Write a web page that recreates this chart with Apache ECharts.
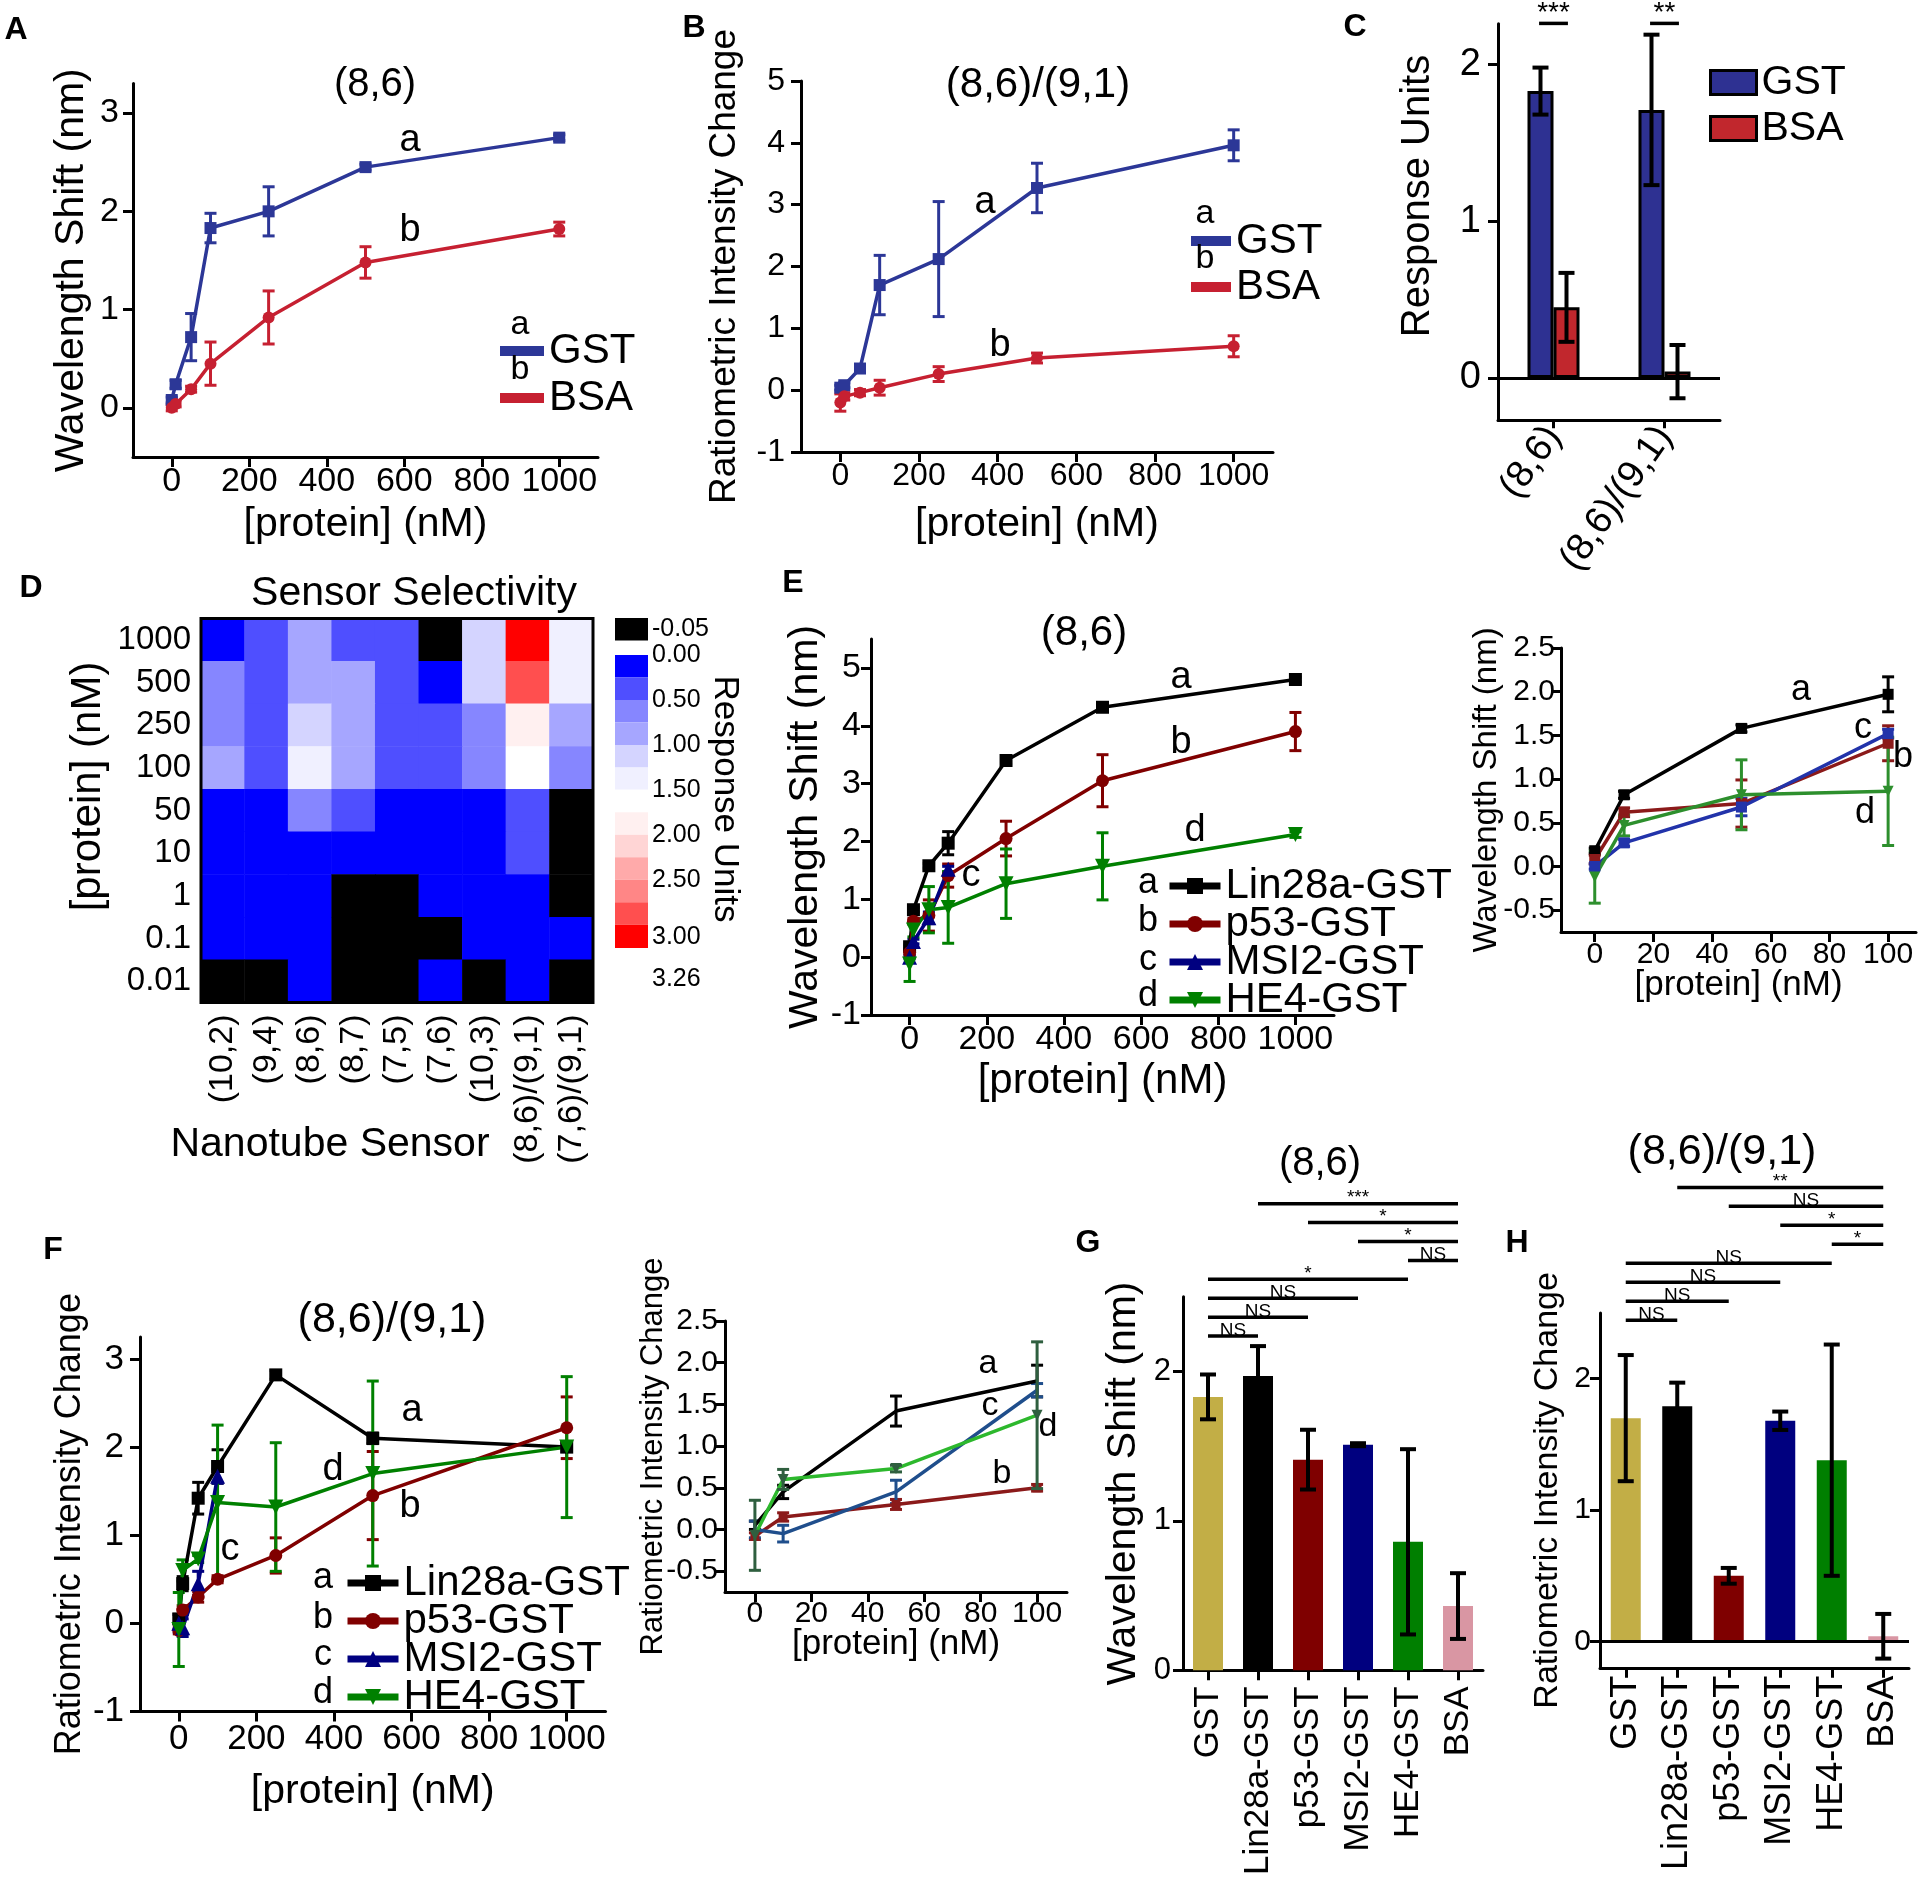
<!DOCTYPE html>
<html>
<head>
<meta charset="utf-8">
<title>Nanotube sensor selectivity</title>
<script src="https://cdn.jsdelivr.net/npm/echarts@6/dist/echarts.min.js"></script>
<style>
html,body{margin:0;padding:0;background:#ffffff;}
#chart{width:1920px;height:1878px;}
</style>
</head>
<body>
<div id="chart"></div>
<script>
// ======================= DATA =======================
// shared concentration axis (nM) and tick labels
const concs = [0, 10, 50, 100, 250, 500, 1000];
const ticks1000 = [0, 200, 400, 600, 800, 1000];
const ticks100 = [0, 20, 40, 60, 80, 100];

// Panel A: (8,6) wavelength shift
const aGst = [0.08, 0.24, 0.72, 1.83, 2.00, 2.45, 2.75];
const aGstErr = [0.03, 0.04, 0.24, 0.15, 0.25, 0.03, 0.03];
const aBsa = [0.00, 0.04, 0.19, 0.45, 0.92, 1.48, 1.82];
const aBsaErr = [0.03, 0.03, 0.03, 0.22, 0.27, 0.16, 0.07];

// Panel B: (8,6)/(9,1) ratiometric intensity change
const bGst = [0.04, 0.08, 0.35, 1.70, 2.12, 3.27, 3.96];
const bGstErr = [0.04, 0.04, 0.05, 0.48, 0.93, 0.40, 0.25];
const bBsa = [-0.20, -0.10, -0.04, 0.04, 0.26, 0.52, 0.71];
const bBsaErr = [0.14, 0.06, 0.05, 0.12, 0.12, 0.08, 0.17];

// Panel C: response units at 100 nM
const cCats = ['(8,6)', '(8,6)/(9,1)'];
const cGst = [1.83, 1.71];
const cGstErr = [0.15, 0.48];
const cBsa = [0.45, 0.04];
const cBsaErr = [0.22, 0.17];
const cSig = ['***', '**'];

// Panel D: sensor selectivity heatmap (rows: 1000 nM at top ... 0.01 nM at bottom)
const dSensors = ['(10,2)', '(9,4)', '(8,6)', '(8,7)', '(7,5)', '(7,6)', '(10,3)', '(8,6)/(9,1)', '(7,6)/(9,1)'];
const dConcs = ['0.01', '0.1', '1', '10', '50', '100', '250', '500', '1000'];
const dRows = [
  [0.15, 0.38, 0.88, 0.40, 0.42, -0.03, 1.12, 3.15, 1.38],
  [0.62, 0.41, 0.92, 0.90, 0.39, 0.18, 1.15, 2.86, 1.36],
  [0.64, 0.37, 1.14, 0.87, 0.36, 0.33, 0.63, 1.86, 0.86],
  [0.85, 0.39, 1.40, 0.89, 0.35, 0.34, 0.61, 1.62, 0.59],
  [0.12, 0.16, 0.66, 0.41, 0.14, 0.10, 0.15, 0.37, -0.03],
  [0.10, 0.13, 0.17, 0.15, 0.12, 0.11, 0.14, 0.33, -0.02],
  [0.08, 0.10, 0.12, -0.02, -0.01, 0.09, 0.11, 0.18, -0.03],
  [0.06, 0.07, 0.09, -0.02, -0.03, -0.01, 0.05, 0.10, 0.04],
  [-0.02, -0.01, 0.05, -0.04, -0.03, 0.03, -0.02, 0.06, -0.04]
];
const respBreaks = [-0.05, 0, 0.25, 0.5, 0.75, 1.0, 1.25, 1.5, 1.75, 2.0, 2.25, 2.5, 2.75, 3.0, 3.26];
const cbTickValues = [-0.05, 0, 0.5, 1.0, 1.5, 2.0, 2.5, 3.0, 3.26];

// Panel E: (8,6) wavelength shift for GST fusions (inset uses first four concentrations)
const eLin28 = [0.18, 0.82, 1.58, 1.97, 3.40, 4.32, 4.80];
const eLin28Err = [0.03, 0.04, 0.04, 0.20, 0.06, 0.04, 0.04];
const eP53 = [0.08, 0.62, 0.72, 1.41, 2.05, 3.05, 3.90];
const eP53Err = [0.05, 0.05, 0.27, 0.20, 0.30, 0.45, 0.33];
const eMsi2 = [0.00, 0.27, 0.68, 1.52];
const eMsi2Err = [0.03, 0.04, 0.10, 0.05];
const eHe4 = [-0.12, 0.47, 0.82, 0.86, 1.27, 1.57, 2.12];
const eHe4Err = [0.30, 0.12, 0.40, 0.62, 0.60, 0.58, 0.05];

// Panel F: (8,6)/(9,1) ratiometric change for GST fusions
const fLin28 = [0.05, 0.45, 1.42, 1.78, 2.82, 2.10, 2.00];
const fLin28Err = [0.05, 0.08, 0.18, 0.19, 0.05, 0.06, 0.05];
const fP53 = [-0.08, 0.15, 0.30, 0.50, 0.77, 1.45, 2.22];
const fP53Err = [0.04, 0.05, 0.06, 0.04, 0.20, 0.50, 0.35];
const fMsi2 = [0.00, -0.05, 0.45, 1.67];
const fMsi2Err = [0.10, 0.10, 0.14, 0.08];
const fHe4 = [-0.07, 0.60, 0.73, 1.37, 1.32, 1.70, 2.00];
const fHe4Err = [0.42, 0.12, 0.04, 0.88, 0.73, 1.05, 0.80];

// Panels G / H: 100 nM comparisons
const ghCats = ['GST', 'Lin28a-GST', 'p53-GST', 'MSI2-GST', 'HE4-GST', 'BSA'];
const gVals = [1.83, 1.97, 1.41, 1.51, 0.86, 0.43];
const gErr = [0.15, 0.20, 0.20, 0.01, 0.62, 0.22];
const hVals = [1.70, 1.79, 0.50, 1.68, 1.38, 0.04];
const hErr = [0.48, 0.18, 0.06, 0.07, 0.88, 0.17];
const sigPairs = [[0, 1], [0, 2], [0, 3], [0, 4], [4, 5], [3, 5], [2, 5], [1, 5]];
const gSig = ['NS', 'NS', 'NS', '*', 'NS', '*', '*', '***'];
const hSig = ['NS', 'NS', 'NS', 'NS', '*', '*', 'NS', '**'];

// ======================= STYLE =======================
const FONT = "'Liberation Sans', Arial, Helvetica, sans-serif";
const AB_BLUE = '#2c3797', AB_RED = '#c62031';
const C_BLUE = '#2e3192', C_RED = '#c1272d';
const K = '#000000', P53C = '#800000', MSIC = '#000080', HE4C = '#008000';
const INS_RED = '#8b1a1a', INS_BLUE_E = '#2233aa', INS_BLUE_F = '#1f4e8c', INS_GREEN_E = '#2d8f2d', INS_GREEN_F = '#2db82d', INS_GREEN_F_ERR = '#2f5f3f';
const respColors = ['#000000', '#0000ff', '#4f4fff', '#8686ff', '#a6a6ff', '#d4d4ff', '#f0f0ff', '#ffffff', '#fff0f0', '#ffd5d5', '#ffaaaa', '#ff8686', '#ff4f4f', '#ff0000'];
const ghColors = ['#c2ae46', '#000000', '#7f0000', '#00007f', '#007f00', '#d996a3'];
const DOWN_TRI = 'path://M0,0L10,0L5,9Z';

// ======================= HELPERS =======================
function merge(a, b) {
  for (const k in b) {
    const bv = b[k];
    if (bv && typeof bv === 'object' && !Array.isArray(bv) && a[k] && typeof a[k] === 'object' && !Array.isArray(a[k])) merge(a[k], bv);
    else a[k] = bv;
  }
  return a;
}
function baseAxis(o) {
  return merge({
    nameLocation: 'middle',
    nameMoveOverlap: false,
    axisLine: {show: true, onZero: false, lineStyle: {color: '#000', width: 3}},
    axisTick: {show: true, length: 10, lineStyle: {color: '#000', width: 3}},
    axisLabel: {color: '#000', fontFamily: FONT, fontSize: 30, margin: 12},
    splitLine: {show: false},
    nameTextStyle: {color: '#000', fontFamily: FONT}
  }, o || {});
}
function valAx(min, max, ticks, fs, o) {
  return baseAxis(merge({type: 'value', min: min, max: max,
    axisTick: {customValues: ticks},
    axisLabel: {customValues: ticks, fontSize: fs, hideOverlap: false, formatter: v => String(v)}}, o || {}));
}
function catAx(data, o) {
  return baseAxis(merge({type: 'category', data: data, axisTick: {alignWithLabel: true}, axisLabel: {interval: 0}}, o || {}));
}
function hidAx(min, max) { return {type: 'value', min: min, max: max, show: false}; }

const grids = [], xAxis = [], yAxis = [], series = [], legends = [], texts = [];
function addPanel(box, xa, ya) {
  grids.push(box);
  const i = grids.length - 1;
  xa.gridIndex = i; ya.gridIndex = i;
  xAxis.push(xa); yAxis.push(ya);
  return i;
}
function lineS(name, p, xs, ys, color, symbol, size, o) {
  return merge({
    type: 'line', name: name, xAxisIndex: p, yAxisIndex: p, silent: true, z: 3,
    data: ys.map((y, i) => [xs[i], y]), symbol: symbol, symbolSize: size, showSymbol: true,
    lineStyle: {color: color, width: 3.5}, itemStyle: {color: color}, emphasis: {disabled: true}
  }, o || {});
}
function errS(p, xs, ys, errs, color, o) {
  o = o || {};
  const cap = o.cap || 12, lw = o.lw || 3, off = o.offset || 0;
  return {
    type: 'custom', xAxisIndex: p, yAxisIndex: p, silent: true, z: o.z || 2,
    data: ys.map((y, i) => [xs[i], y - errs[i], y + errs[i]]),
    encode: {x: 0, y: [1, 2]},
    renderItem: function (params, api) {
      const lo = api.coord([api.value(0), api.value(1)]);
      const hi = api.coord([api.value(0), api.value(2)]);
      const x = lo[0] + off;
      const st = {stroke: color, lineWidth: lw};
      return {type: 'group', children: [
        {type: 'line', shape: {x1: x, y1: lo[1], x2: x, y2: hi[1]}, style: st},
        {type: 'line', shape: {x1: x - cap / 2, y1: lo[1], x2: x + cap / 2, y2: lo[1]}, style: st},
        {type: 'line', shape: {x1: x - cap / 2, y1: hi[1], x2: x + cap / 2, y2: hi[1]}, style: st}
      ]};
    }
  };
}
function sigS(p, items, labels, fs) {
  return {
    type: 'custom', xAxisIndex: p, yAxisIndex: p, silent: true, z: 4,
    data: items, encode: {x: [0, 1], y: 2},
    renderItem: function (params, api) {
      const a = api.coord([api.value(0), api.value(2)]);
      const b = api.coord([api.value(1), api.value(2)]);
      return {type: 'group', children: [
        {type: 'line', shape: {x1: a[0], y1: a[1], x2: b[0], y2: b[1]}, style: {stroke: '#000', lineWidth: 3.5}},
        {type: 'text', x: (a[0] + b[0]) / 2, y: a[1] + 4,
          style: {text: labels[params.dataIndex], fontSize: fs, fontFamily: FONT, fill: '#000', align: 'center', verticalAlign: 'bottom'}}
      ]};
    }
  };
}
function txt(t, x, y, fs, o) {
  texts.push(merge({type: 'text', x: x, y: y, silent: true, z: 10,
    style: {text: t, fontSize: fs, fontFamily: FONT, fill: '#000', align: 'center', verticalAlign: 'middle'}}, o || {}));
}
function panelLetter(t, x, y) { txt(t, x, y, 32, {style: {fontWeight: 'bold'}}); }
const zeroLine = {silent: true, symbol: ['none', 'none'], label: {show: false},
  lineStyle: {color: '#000', width: 3, type: 'solid'}, data: [{yAxis: 0}]};
function fourLegend(left, top) {
  return {orient: 'vertical', left: left, top: top, itemWidth: 51, itemHeight: 20, itemGap: -4, selectedMode: false,
    data: ['Lin28a-GST', 'p53-GST', 'MSI2-GST', 'HE4-GST'], lineStyle: {width: 7},
    textStyle: {fontSize: 42, lineHeight: 36, color: '#000', fontFamily: FONT}};
}

// ======================= PANEL A =======================
const pA = addPanel({left: 133, top: 83.6, width: 465, height: 373.4},
  valAx(-100, 1100, ticks1000, 34, {name: '[protein] (nM)', nameGap: 47, nameTextStyle: {fontSize: 41}, axisLabel: {margin: 8}}),
  valAx(-0.5, 3.3, [0, 1, 2, 3], 34, {name: 'Wavelength Shift (nm)', nameGap: 41, nameTextStyle: {fontSize: 41}, axisLabel: {margin: 14}}));
series.push(errS(pA, concs, aGst, aGstErr, AB_BLUE));
series.push(errS(pA, concs, aBsa, aBsaErr, AB_RED));
series.push(lineS('GST', pA, concs, aGst, AB_BLUE, 'rect', 12));
series.push(lineS('BSA', pA, concs, aBsa, AB_RED, 'circle', 12));
legends.push({orient: 'vertical', left: 495, top: 325, itemWidth: 44, itemHeight: 10, itemGap: 5, selectedMode: false,
  data: [{name: 'GST', icon: 'rect'}, {name: 'BSA', icon: 'rect'}],
  textStyle: {fontSize: 42, lineHeight: 42, color: '#000', fontFamily: FONT}});
panelLetter('A', 16, 30);
txt('(8,6)', 375, 85, 40);
txt('a', 410, 141, 38); txt('b', 410, 231, 38);
txt('a', 520, 325, 34); txt('b', 520, 370, 34);

// ======================= PANEL B =======================
const pB = addPanel({left: 801, top: 81, width: 472, height: 371},
  valAx(-100, 1100, ticks1000, 32, {name: '[protein] (nM)', nameGap: 52, nameTextStyle: {fontSize: 41}, axisLabel: {margin: 8}}),
  valAx(-1, 5, [-1, 0, 1, 2, 3, 4, 5], 32, {name: 'Ratiometric Intensity Change', nameGap: 58, nameTextStyle: {fontSize: 37}, axisLabel: {margin: 16}}));
series.push(errS(pB, concs, bGst, bGstErr, AB_BLUE));
series.push(errS(pB, concs, bBsa, bBsaErr, AB_RED));
series.push(lineS('GST', pB, concs, bGst, AB_BLUE, 'rect', 12));
series.push(lineS('BSA', pB, concs, bBsa, AB_RED, 'circle', 12));
legends.push({orient: 'vertical', left: 1186, top: 215, itemWidth: 40, itemHeight: 10, itemGap: 4, selectedMode: false,
  data: [{name: 'GST', icon: 'rect'}, {name: 'BSA', icon: 'rect'}],
  textStyle: {fontSize: 42, lineHeight: 42, color: '#000', fontFamily: FONT}});
panelLetter('B', 694, 28);
txt('(8,6)/(9,1)', 1038, 85, 42);
txt('a', 985, 203, 38); txt('b', 1000, 346, 38);
txt('a', 1205, 214, 34); txt('b', 1205, 259, 34);

// ======================= PANEL C =======================
const pC = addPanel({left: 1498, top: 23.7, width: 222, height: 396.5},
  catAx(cCats, {axisTick: {length: 8}, axisLabel: {rotate: 55, fontSize: 38, margin: 10}}),
  valAx(-0.27, 2.26, [0, 1, 2], 38, {name: 'Response Units', nameGap: 60, nameTextStyle: {fontSize: 40, padding: [0, 0, 0, 52]}, axisLabel: {margin: 17}}));
series.push({type: 'bar', name: 'GST', xAxisIndex: pC, yAxisIndex: pC, silent: true, data: cGst, barWidth: 26, barGap: '0%',
  itemStyle: {color: C_BLUE, borderColor: '#000', borderWidth: 3}, markLine: zeroLine});
series.push({type: 'bar', name: 'BSA', xAxisIndex: pC, yAxisIndex: pC, silent: true, data: cBsa, barWidth: 26, barGap: '0%',
  itemStyle: {color: C_RED, borderColor: '#000', borderWidth: 3}});
series.push(errS(pC, [0, 1], cGst, cGstErr, '#000', {offset: -13, lw: 4, cap: 16, z: 5}));
series.push(errS(pC, [0, 1], cBsa, cBsaErr, '#000', {offset: 13, lw: 4, cap: 16, z: 5}));
const pCs = addPanel({left: 1498, top: 23.4, width: 222, height: 10}, hidAx(-0.5, 1.5), hidAx(0, 1));
const C_SIG_HALF = 0.13;
series.push(sigS(pCs, cSig.map((s, i) => [i - C_SIG_HALF, i + C_SIG_HALF, 1]), cSig, 28));
legends.push({orient: 'vertical', left: 1704, top: 57, itemWidth: 46, itemHeight: 24, itemGap: 5, selectedMode: false,
  data: [{name: 'GST', icon: 'rect', itemStyle: {color: C_BLUE, borderColor: '#000', borderWidth: 3}},
         {name: 'BSA', icon: 'rect', itemStyle: {color: C_RED, borderColor: '#000', borderWidth: 3}}],
  textStyle: {fontSize: 41, lineHeight: 41, color: '#000', fontFamily: FONT}});
panelLetter('C', 1355, 27);

// ======================= PANEL D =======================
const pD = addPanel({left: 201, top: 618.5, width: 392, height: 384, show: true, borderColor: '#000', borderWidth: 3, z: 5},
  catAx(dSensors, {axisLine: {show: false}, axisTick: {show: false}, axisLabel: {rotate: 90, fontSize: 34, margin: 12},
    name: 'Nanotube Sensor', nameGap: 122, nameTextStyle: {fontSize: 41, padding: [0, 134, 0, 0]}}),
  catAx(dConcs, {axisLine: {show: false}, axisTick: {show: false}, axisLabel: {fontSize: 33, margin: 10},
    name: '[protein] (nM)', nameGap: 92, nameTextStyle: {fontSize: 42, padding: [0, 0, 0, 48]}}));
const heatData = [];
dRows.forEach((row, r) => row.forEach((v, c) => heatData.push([c, dConcs.length - 1 - r, v])));
const heatIdx = series.length;
series.push({type: 'heatmap', xAxisIndex: pD, yAxisIndex: pD, data: heatData, silent: true, emphasis: {disabled: true}});
const respPieces = respColors.map((col, i) => ({lo: respBreaks[i], hi: respBreaks[i + 1], color: col}));
// colour bar: swatches drawn from the same pieces, labels at the piece boundaries
const CB_MIN = -0.4116;
const cbLabelPos = cbTickValues.map((v, i) => v < 0 ? CB_MIN + 0.125 : (i >= cbTickValues.length - 2 ? v + 0.14 + (i - cbTickValues.length + 2) * 0.2 : v));
const pCB = addPanel({left: 615, top: 618, width: 33, height: 362},
  hidAx(0, 1),
  {type: 'value', inverse: true, min: CB_MIN, max: 3.615, position: 'right',
    axisLine: {show: false}, axisTick: {show: false}, splitLine: {show: false},
    axisLabel: {customValues: cbLabelPos, hideOverlap: false,
      formatter: function (v) {
        let best = 0;
        cbLabelPos.forEach((p, i) => { if (Math.abs(p - v) < Math.abs(cbLabelPos[best] - v)) best = i; });
        return cbTickValues[best].toFixed(2);
      },
      color: '#000', fontSize: 25, fontFamily: FONT, margin: 4},
    name: 'Response Units', nameLocation: 'middle', nameRotate: -90, nameGap: 59, nameMoveOverlap: false,
    nameTextStyle: {fontSize: 35, color: '#000', fontFamily: FONT}});
series.push({type: 'custom', xAxisIndex: pCB, yAxisIndex: pCB, silent: true,
  data: respPieces.map(p => [0, p.lo, p.hi]), encode: {x: 0, y: [1, 2]},
  renderItem: function (params, api) {
    const p = respPieces[params.dataIndex];
    const x0 = api.coord([0, 0])[0], x1 = api.coord([1, 0])[0];
    let y0, y1;
    if (p.hi <= 0) {
      const blk = api.coord([0, respBreaks[2]])[1] - api.coord([0, respBreaks[1]])[1];
      y0 = params.coordSys.y; y1 = y0 + blk;
    } else {
      y0 = api.coord([0, p.lo])[1]; y1 = api.coord([0, p.hi])[1];
    }
    return {type: 'rect', shape: {x: x0, y: y0, width: x1 - x0, height: y1 - y0}, style: {fill: p.color}};
  }});
panelLetter('D', 31, 588);
txt('Sensor Selectivity', 414, 594, 41);

// ======================= PANEL E =======================
const pE = addPanel({left: 871, top: 639, width: 463, height: 376},
  valAx(-100, 1100, ticks1000, 34, {name: '[protein] (nM)', nameGap: 45, nameTextStyle: {fontSize: 42}, axisLabel: {margin: 8}}),
  valAx(-1, 5.5, [-1, 0, 1, 2, 3, 4, 5], 34, {name: 'Wavelength Shift (nm)', nameGap: 45, nameTextStyle: {fontSize: 41}, axisLabel: {margin: 10}}));
series.push(errS(pE, concs, eLin28, eLin28Err, K));
series.push(errS(pE, concs, eP53, eP53Err, P53C));
series.push(errS(pE, concs, eMsi2, eMsi2Err, MSIC));
series.push(errS(pE, concs, eHe4, eHe4Err, HE4C));
series.push(lineS('Lin28a-GST', pE, concs, eLin28, K, 'rect', 13));
series.push(lineS('p53-GST', pE, concs, eP53, P53C, 'circle', 13));
series.push(lineS('MSI2-GST', pE, concs, eMsi2, MSIC, 'triangle', 15));
series.push(lineS('HE4-GST', pE, concs, eHe4, HE4C, DOWN_TRI, 15));
legends.push(fourLegend(1161, 860));
panelLetter('E', 793, 583);
txt('(8,6)', 1084, 633, 42);
txt('a', 1181, 678, 38); txt('b', 1181, 743, 38); txt('c', 971, 876, 38); txt('d', 1195, 831, 38);
['a', 'b', 'c', 'd'].forEach((l, i) => txt(l, 1148, [883, 921, 960, 996][i], 36));

// E inset
const pEi = addPanel({left: 1561, top: 648, width: 355, height: 284},
  valAx(-11.5, 109.5, ticks100, 30, {name: '[protein] (nM)', nameGap: 36, nameTextStyle: {fontSize: 35}, axisLabel: {margin: 8}}),
  valAx(-0.75, 2.5, [-0.5, 0, 0.5, 1, 1.5, 2, 2.5], 30, {name: 'Wavelength Shift (nm)', nameGap: 58, nameTextStyle: {fontSize: 33},
    axisLabel: {margin: 6, formatter: v => v.toFixed(1)}}));
const c4 = concs.slice(0, 4);
series.push(errS(pEi, c4, eLin28.slice(0, 4), eLin28Err.slice(0, 4), K));
series.push(errS(pEi, c4, eP53.slice(0, 4), eP53Err.slice(0, 4), INS_RED));
series.push(errS(pEi, c4, eMsi2, eMsi2Err, INS_BLUE_E));
series.push(errS(pEi, c4, eHe4.slice(0, 4), eHe4Err.slice(0, 4), INS_GREEN_E));
series.push(lineS('Lin28a-GST inset', pEi, c4, eLin28.slice(0, 4), K, 'rect', 11));
series.push(lineS('p53-GST inset', pEi, c4, eP53.slice(0, 4), INS_RED, 'rect', 11));
series.push(lineS('MSI2-GST inset', pEi, c4, eMsi2, INS_BLUE_E, 'rect', 11));
series.push(lineS('HE4-GST inset', pEi, c4, eHe4.slice(0, 4), INS_GREEN_E, DOWN_TRI, 11));
txt('a', 1801, 690, 36); txt('c', 1863, 728, 36); txt('b', 1903, 757, 36); txt('d', 1865, 813, 36);

// ======================= PANEL F =======================
const pF = addPanel({left: 140, top: 1337, width: 465.5, height: 374.4},
  valAx(-100, 1100, ticks1000, 35, {name: '[protein] (nM)', nameGap: 60, nameTextStyle: {fontSize: 41}, axisLabel: {margin: 10}}),
  valAx(-1, 3.25, [-1, 0, 1, 2, 3], 35, {name: 'Ratiometric Intensity Change', nameGap: 52, nameTextStyle: {fontSize: 36}, axisLabel: {margin: 16}}));
series.push(errS(pF, concs, fLin28, fLin28Err, K));
series.push(errS(pF, concs, fP53, fP53Err, P53C));
series.push(errS(pF, concs, fMsi2, fMsi2Err, MSIC));
series.push(errS(pF, concs, fHe4, fHe4Err, HE4C));
series.push(lineS('Lin28a-GST', pF, concs, fLin28, K, 'rect', 13));
series.push(lineS('p53-GST', pF, concs, fP53, P53C, 'circle', 13));
series.push(lineS('MSI2-GST', pF, concs, fMsi2, MSIC, 'triangle', 15));
series.push(lineS('HE4-GST', pF, concs, fHe4, HE4C, DOWN_TRI, 15));
legends.push(fourLegend(339, 1557));
panelLetter('F', 53, 1250);
txt('(8,6)/(9,1)', 392, 1320, 43);
txt('a', 412, 1411, 38); txt('b', 410, 1507, 38); txt('c', 230, 1550, 38); txt('d', 333, 1470, 38);
['a', 'b', 'c', 'd'].forEach((l, i) => txt(l, 323, [1578, 1618, 1655, 1693][i], 36));

// F inset
const pFi = addPanel({left: 725, top: 1321, width: 342, height: 271},
  valAx(-10.6, 110.6, ticks100, 30, {name: '[protein] (nM)', nameGap: 35, nameTextStyle: {fontSize: 35}, axisLabel: {margin: 7}}),
  valAx(-0.75, 2.5, [-0.5, 0, 0.5, 1, 1.5, 2, 2.5], 30, {name: 'Ratiometric Intensity Change', nameGap: 56, nameTextStyle: {fontSize: 31},
    axisLabel: {margin: 7, formatter: v => v.toFixed(1)}}));
series.push(errS(pFi, c4, fLin28.slice(0, 4), fLin28Err.slice(0, 4), K));
series.push(errS(pFi, c4, fP53.slice(0, 4), fP53Err.slice(0, 4), INS_RED));
series.push(errS(pFi, c4, fMsi2, fMsi2Err, INS_BLUE_F));
series.push(errS(pFi, c4, fHe4.slice(0, 4), fHe4Err.slice(0, 4), INS_GREEN_F_ERR, {z: 4}));
series.push(lineS('Lin28a-GST inset2', pFi, c4, fLin28.slice(0, 4), K, 'none', 0));
series.push(lineS('p53-GST inset2', pFi, c4, fP53.slice(0, 4), INS_RED, 'rect', 9));
series.push(lineS('MSI2-GST inset2', pFi, c4, fMsi2, INS_BLUE_F, 'none', 0));
series.push(lineS('HE4-GST inset2', pFi, c4, fHe4.slice(0, 4), INS_GREEN_F, DOWN_TRI, 11, {itemStyle: {color: INS_GREEN_F_ERR}}));
txt('a', 988, 1364, 34); txt('c', 990, 1406, 34); txt('d', 1048, 1427, 34); txt('b', 1002, 1474, 34);

// ======================= PANEL G =======================
const pG = addPanel({left: 1183, top: 1296.8, width: 300, height: 374.5},
  catAx(ghCats, {axisTick: {length: 10}, axisLabel: {rotate: 90, fontSize: 35, margin: 16}}),
  valAx(0, 2.5, [0, 1, 2], 31, {name: 'Wavelength Shift (nm)', nameGap: 39, nameTextStyle: {fontSize: 41}, axisLabel: {margin: 12}}));
series.push({type: 'bar', xAxisIndex: pG, yAxisIndex: pG, silent: true, barWidth: 30,
  data: gVals.map((v, i) => ({value: v, itemStyle: {color: ghColors[i]}}))});
series.push(errS(pG, ghCats.map((c, i) => i), gVals, gErr, '#000', {lw: 4, cap: 16, z: 5}));
const pGs = addPanel({left: 1183, top: 1203.7, width: 300, height: 132.4}, hidAx(-0.5, 5.5), hidAx(0, 7));
series.push(sigS(pGs, sigPairs.map((p, i) => [p[0], p[1], i]), gSig, 19));
panelLetter('G', 1088, 1243);
txt('(8,6)', 1320, 1164, 40);

// ======================= PANEL H =======================
const pH = addPanel({left: 1600, top: 1313, width: 309, height: 354.8},
  catAx(ghCats, {axisTick: {length: 10}, axisLabel: {rotate: 90, fontSize: 36, margin: 8}}),
  valAx(-0.2, 2.5, [0, 1, 2], 30, {name: 'Ratiometric Intensity Change', nameGap: 35, nameTextStyle: {fontSize: 34}, axisLabel: {margin: 9}}));
series.push({type: 'bar', xAxisIndex: pH, yAxisIndex: pH, silent: true, barWidth: 30, markLine: zeroLine,
  data: hVals.map((v, i) => ({value: v, itemStyle: {color: ghColors[i]}}))});
series.push(errS(pH, ghCats.map((c, i) => i), hVals, hErr, '#000', {lw: 4, cap: 16, z: 5}));
const pHs = addPanel({left: 1600, top: 1187.4, width: 309, height: 132.8}, hidAx(-0.5, 5.5), hidAx(0, 7));
series.push(sigS(pHs, sigPairs.map((p, i) => [p[0], p[1], i]), hSig, 19));
panelLetter('H', 1517, 1243);
txt('(8,6)/(9,1)', 1722, 1152, 43);

// ======================= CHART =======================
const chart = echarts.init(document.getElementById('chart'), null, {renderer: 'canvas'});
chart.setOption({
  backgroundColor: '#ffffff',
  animation: false,
  textStyle: {fontFamily: FONT},
  grid: grids,
  xAxis: xAxis,
  yAxis: yAxis,
  legend: legends,
  visualMap: [{
    type: 'piecewise', show: false, seriesIndex: heatIdx, dimension: 2,
    pieces: respPieces.map((p, i) => i === respPieces.length - 1
      ? {gte: p.lo, lte: p.hi, color: p.color}
      : {gte: p.lo, lt: p.hi, color: p.color})
  }],
  graphic: {elements: texts},
  series: series
});
</script>
</body>
</html>
